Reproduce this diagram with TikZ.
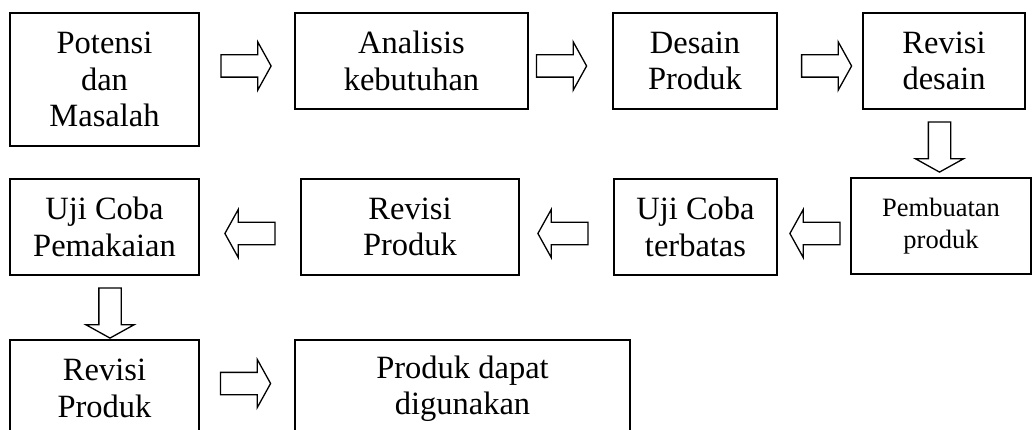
\documentclass[tikz,border=0pt]{standalone}
\usepackage{fontspec}
\setmainfont{Liberation Serif}
\usetikzlibrary{shapes.arrows}

\begin{document}
\begin{tikzpicture}[x=1pt,y=-1pt,line width=1.5pt,
  tahap/.style={draw, rectangle, align=center, inner sep=0pt,
    font=\fontsize{32.5}{36.5}\selectfont},
  panah/.style={draw, single arrow, line width=1.3pt, inner sep=10.5pt,
    minimum height=50pt, single arrow head extend=13pt,
    single arrow tip angle=122, single arrow head indent=0pt}]
\useasboundingbox (0,0) rectangle (1032,430);
\clip (0,0) rectangle (1032,430);

\node[tahap, minimum width=189pt, minimum height=133pt] (potensi) at (104.5,79.5) {Potensi\\dan\\Masalah};
\node[tahap, minimum width=233pt, minimum height=96pt] (analisis) at (411.5,61) {Analisis\\kebutuhan};
\node[tahap, minimum width=164pt, minimum height=96pt] (desain) at (695,61) {Desain\\Produk};
\node[tahap, minimum width=162pt, minimum height=96pt] (revdesain) at (944,61) {Revisi\\desain};

\node[tahap, minimum width=180pt, minimum height=96pt, font=\fontsize{26.5}{32}\selectfont] (pembuatan) at (941,226) {Pembuatan\\produk};
\node[tahap, minimum width=163pt, minimum height=96pt] (ujiterbatas) at (695.5,227) {Uji Coba\\terbatas};
\node[tahap, minimum width=218pt, minimum height=96pt] (revproduk) at (410,227) {Revisi\\Produk};
\node[tahap, minimum width=189pt, minimum height=96pt] (ujipakai) at (104.5,227) {Uji Coba\\Pemakaian};

\node[tahap, minimum width=189pt, minimum height=97pt] (revakhir) at (104.5,388.5) {Revisi\\Produk};
\node[tahap, minimum width=335pt, minimum height=97pt] (produkjadi) at (462.5,388.5) {Produk dapat\\digunakan};

\node[panah] (p1) at (243,66) {};
\node[panah] (p2) at (558.5,66) {};
\node[panah] (p3) at (823.5,66) {};
\node[panah, shape border rotate=270] (p4) at (939.5,144) {};
\node[panah, shape border rotate=180] (p5) at (818,233.5) {};
\node[panah, shape border rotate=180] (p6) at (566,233.5) {};
\node[panah, shape border rotate=180] (p7) at (253,233.5) {};
\node[panah, shape border rotate=270] (p8) at (110,310) {};
\node[panah] (p9) at (242.5,383.5) {};
\end{tikzpicture}
\end{document}
